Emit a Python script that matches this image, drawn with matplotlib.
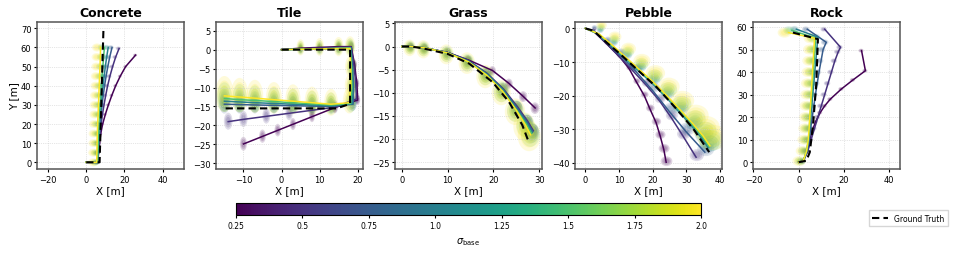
import matplotlib
matplotlib.use("Agg")
import matplotlib.pyplot as plt
import numpy as np
from matplotlib.patches import Ellipse
from matplotlib.lines import Line2D
from matplotlib.ticker import MultipleLocator

sigmas = [0.25, 0.5, 0.75, 1.0, 1.5, 2.0]
cbar_ticks = [0.25, 0.5, 0.75, 1.0, 1.25, 1.5, 1.75, 2.0]
titles = ["Concrete", "Tile", "Grass", "Pebble", "Rock"]

# ---- Concrete ----
concrete_gt_x = [0, 7, 9]
concrete_gt_y = [0, 0, 69]
concrete_est = {
    0.25: ([0, 6, 6.5, 7, 7.6, 8.6, 10, 11.6, 13.4, 15.4, 17.8, 20.6, 25.8],
           [0, 0, 5, 10, 15, 20, 25, 30, 35, 40, 45, 50, 56]),
    0.5: ([0, 6, 6.3, 6.7, 7.2, 7.8, 8.5, 9.3, 10.2, 11.2, 12.4, 13.8, 15.4, 17.2],
          [0, 0, 5, 10, 15, 20, 25, 30, 35, 40, 45, 50, 55, 59.5]),
    0.75: ([0, 6, 6.2, 6.5, 6.9, 7.3, 7.8, 8.3, 8.9, 9.6, 10.4, 11.3, 12.3, 13.5],
           [0, 0, 5, 10, 15, 20, 25, 30, 35, 40, 45, 50, 55, 60]),
    1.0: ([0, 6, 6.2, 6.4, 6.7, 7.0, 7.4, 7.8, 8.3, 8.8, 9.4, 10.0, 10.7, 11.5],
          [0, 0, 5, 10, 15, 20, 25, 30, 35, 40, 45, 50, 55, 60]),
    1.5: ([0, 6, 6.1, 6.3, 6.5, 6.7, 7.0, 7.3, 7.6, 7.9, 8.3, 8.7, 9.1, 9.5],
          [0, 0, 5, 10, 15, 20, 25, 30, 35, 40, 45, 50, 55, 60]),
    2.0: ([0, 5.5, 5.6, 5.7, 5.8, 6.0, 6.2, 6.4, 6.6, 6.8, 7.0, 7.2, 7.4, 7.5],
          [0, 0, 5, 10, 15, 20, 25, 30, 35, 40, 45, 50, 55, 60]),
}

# ---- Tile ----
tile_gt_x = [0, 18, 18, 14.5, -15]
tile_gt_y = [0, 0, -14.3, -15.5, -15.5]
tile_est = {
    0.25: ([0, 5, 10, 15, 18.3, 19.2, 19.8, 20, 14, 8, 3, -1, -5, -10],
           [0, 0.4, 0.6, 0.8, 0.8, -4, -9, -13.3, -15.3, -17.7, -19.7, -21.3, -22.9, -24.9]),
    0.5: ([0, 5, 10, 15, 18.3, 19, 19.5, 19.7, 14, 8, 2, -4, -10, -14],
          [0, 0.2, 0.4, 0.6, 0.7, -4, -9, -13, -15.2, -16, -16.8, -17.6, -18.4, -19]),
    0.75: ([0, 5, 10, 15, 18.2, 18.7, 18.9, 18.8, 13, 8, 3, -2, -7, -11, -15],
           [0, 0.1, 0.2, 0.4, 0.5, -5, -10, -14.4, -15, -14.9, -14.8, -14.7, -14.6, -14.5, -14.4]),
    1.0: ([0, 5, 10, 15, 18.2, 18.6, 18.8, 18.6, 13, 8, 3, -2, -7, -11, -15],
          [0, 0.1, 0.2, 0.4, 0.5, -5, -10, -14.3, -14.8, -14.6, -14.4, -14.2, -14, -13.8, -13.6]),
    1.5: ([0, 5, 10, 15, 18, 18.4, 18.5, 18.2, 13, 8, 3, -2, -7, -11, -15],
          [0, 0.1, 0.2, 0.3, 0.4, -5, -10, -14.2, -14.6, -14.3, -14, -13.7, -13.4, -13.2, -12.9]),
    2.0: ([0, 5, 10, 15, 18, 18.2, 18.2, 17.8, 13, 8, 3, -2, -7, -11, -15],
          [0, 0.1, 0.2, 0.3, 0.3, -5, -10, -14, -14.4, -14, -13.6, -13.2, -12.8, -12.5, -12.2]),
}

# ---- Grass ----
grass_gt_x = [0, 2, 4.6, 10, 14.7, 19.8, 23.4, 26.3, 27.6]
grass_gt_y = [0, 0, -0.4, -1.6, -3.7, -7.7, -12, -17, -20.4]
grass_est = {
    0.25: ([0, 2, 5, 10, 14.5, 19.8, 23.4, 26.5, 29.1],
           [0, 0, -0.3, -1.3, -2.9, -5.2, -8, -10.8, -13.3]),
    0.5: ([0, 2, 5, 10, 14.5, 18.6, 22.2, 25.3, 27.5, 28.7],
          [0, 0, -0.3, -1.3, -3.0, -5.8, -9.2, -13.1, -16.2, -18.2]),
    0.75: ([0, 2, 5, 10, 14.5, 18.6, 22.1, 25.2, 27.4, 28.6],
           [0, 0, -0.3, -1.3, -3.1, -5.9, -9.3, -13.3, -16.4, -18.4]),
    1.0: ([0, 2, 5, 10, 14.5, 18.5, 22.1, 25.1, 27.3, 28.5],
          [0, 0, -0.3, -1.4, -3.2, -6.0, -9.4, -13.5, -16.6, -18.6]),
    1.5: ([0, 2, 5, 10, 14.5, 18.5, 22, 25, 27.2, 28.3],
          [0, 0, -0.3, -1.4, -3.3, -6.1, -9.6, -13.7, -16.8, -18.8]),
    2.0: ([0, 2, 5, 10, 14.5, 18.5, 22, 25, 27, 28.1],
          [0, 0, -0.3, -1.4, -3.3, -6.2, -9.7, -13.8, -17, -19.1]),
}

# ---- Pebble ----
pebble_gt_x = [0, 2.4, 6.3, 10.3, 15.2, 21.2, 27.1, 32.1, 36.8]
pebble_gt_y = [0, -0.7, -4.2, -7.6, -12.1, -17.5, -24, -29.9, -36.8]
pebble_est = {
    0.25: ([0, 2.4, 6.3, 10.3, 13, 15.2, 17.5, 19.2, 21, 22.2, 23.3, 24],
           [0, -0.8, -4.6, -8.6, -12, -16, -20, -24, -28, -31.9, -36, -39.8]),
    0.5: ([0, 2.4, 6.3, 10, 14, 18, 22, 25.5, 29, 32.9],
          [0, -0.8, -4.5, -8.3, -12.5, -16.8, -21.5, -26.5, -32, -38.3]),
    0.75: ([0, 2.4, 6.3, 10.3, 15, 20, 25, 30, 35.5],
           [0, -0.7, -4.3, -8, -12.8, -18.5, -24.8, -30.8, -36.8]),
    1.0: ([0, 4, 8, 12, 16, 20, 24, 28, 32, 35, 36.5],
          [0, -1.8, -5.5, -9.2, -12.8, -16.5, -20.5, -25, -29.5, -33.2, -35.5]),
    1.5: ([0, 4, 8, 12, 16, 20, 24, 28, 32, 35, 36.8],
          [0, -1.7, -5.2, -8.9, -12.5, -16.1, -20.1, -24.4, -28.9, -32.5, -35.2]),
    2.0: ([0, 4, 8, 12, 16, 20, 24, 28, 32, 35, 37],
          [0, -1.6, -5, -8.6, -12.2, -15.8, -19.8, -24, -28.4, -32, -34.9]),
}

# ---- Rock ----
rock_gt_x = [0, 3.4, 4.9, 6.3, 7.8, 8.5, -4]
rock_gt_y = [0, 0.7, 4.4, 16, 35, 54.6, 57.9]
rock_est = {
    0.25: ([0, 2, 4, 5, 6, 7.5, 9.5, 11.5, 14, 18.9, 24, 29.5, 27.8],
           [0, 0.5, 5, 10, 14, 18, 22, 25, 28, 32.5, 36.5, 40.6, 49.5]),
    0.5: ([0, 2, 4, 5.5, 7, 8.5, 10, 11.5, 13, 14.5, 16, 17.5, 18.5, 11.5],
          [0, 0.5, 5, 10, 15, 20, 25, 30, 35, 40, 45, 49, 51, 59]),
    0.75: ([0, 2, 3.8, 4.7, 5.3, 6, 6.7, 7.4, 8.2, 9, 9.9, 10.8, 12.2, 3.8],
           [0, 0.5, 5, 10, 15, 20, 25, 30, 35, 40, 45, 50, 53.2, 59]),
    1.0: ([0, 2, 3.6, 4.4, 4.9, 5.3, 5.8, 6.2, 6.7, 7.1, 7.6, 8.0, 8.5, -1],
          [0, 0.5, 5, 10, 15, 20, 25, 30, 35, 40, 45, 50, 55.5, 59]),
    1.5: ([0, 2, 3.5, 4.3, 4.7, 5.0, 5.4, 5.8, 6.1, 6.5, 6.8, 7.2, 7.5, -3],
          [0, 0.5, 5, 10, 15, 20, 25, 30, 35, 40, 45, 50, 55, 58.5]),
    2.0: ([0, 2, 3.5, 4.2, 4.6, 4.9, 5.2, 5.5, 5.8, 6.1, 6.4, 6.7, 7, -4.5],
          [0, 0.5, 5, 10, 15, 20, 25, 30, 35, 40, 45, 50, 55, 57.5]),
}

panels = [
    (concrete_gt_x, concrete_gt_y, concrete_est),
    (tile_gt_x, tile_gt_y, tile_est),
    (grass_gt_x, grass_gt_y, grass_est),
    (pebble_gt_x, pebble_gt_y, pebble_est),
    (rock_gt_x, rock_gt_y, rock_est),
]

# axis limits / tick steps per panel
xlims = [(-25.7, 51.1), (-17.2, 21.4), (-1.5, 30.6), (-3.1, 40.6), (-20.2, 44.8)]
ylims = [(-3.5, 73.3), (-31.5, 7.3), (-26.5, 5.3), (-41.8, 1.9), (-3.0, 62.2)]
xsteps = [20, 10, 10, 10, 20]
ysteps = [10, 5, 5, 10, 10]
# uncertainty ellipse style: width, height, growth start, x shift, y shift
ell_style = [(5.5, 4.2, 1.0, -1.8, 0.0),
             (4.8, 9.5, 0.45, 0.0, 0.5),
             (5.0, 6.5, 0.55, -0.3, -0.3),
             (9.0, 7.5, 0.35, 0.8, 2.5),
             (6.0, 4.5, 1.0, -1.8, 0.0)]
lefts = [37, 216, 395, 575, 753]

cmap = plt.get_cmap("viridis")
norm = plt.Normalize(0.25, 2.0)

fig = plt.figure(figsize=(9.6, 2.55), dpi=100)

for k, (gx, gy, est) in enumerate(panels):
    ax = fig.add_axes([lefts[k] / 960, 85 / 255, 147 / 960, 147 / 255])
    ew, eh, g0, dx, dy = ell_style[k]
    for s in sigmas:
        xs, ys = est[s]
        c = cmap(norm(s))
        n = len(xs)
        scale = 0.3 + 0.7 * s / 2.0
        for i in range(1, n):
            g = g0 + (1 - g0) * (i - 1) / max(n - 2, 1)
            for layer in (1.0, 0.75, 0.5):
                ax.add_patch(Ellipse((xs[i] + dx * s / 2, ys[i] + dy * s / 2),
                                     ew * scale * g * layer, eh * scale * g * layer,
                                     facecolor=c, edgecolor="none", alpha=0.17, zorder=1))
    for s in sigmas:
        xs, ys = est[s]
        ax.plot(xs, ys, color=cmap(norm(s)), lw=1.1, zorder=2)
    ax.plot(gx, gy, color="black", ls=(0, (3.5, 2)), lw=1.5, zorder=3)

    ax.set_xlim(*xlims[k])
    ax.set_ylim(*ylims[k])
    ax.xaxis.set_major_locator(MultipleLocator(xsteps[k]))
    ax.yaxis.set_major_locator(MultipleLocator(ysteps[k]))
    ax.grid(True, ls=":", lw=0.5, color="#cccccc", zorder=0)
    ax.tick_params(labelsize=6, length=2, pad=2)
    for sp in ax.spines.values():
        sp.set_color("#555555")
        sp.set_linewidth(1.1)
    ax.set_title(titles[k], fontsize=9, fontweight="bold", pad=4)
    ax.set_xlabel("X [m]", fontsize=7.5, labelpad=1)
    if k == 0:
        ax.set_ylabel("Y [m]", fontsize=7.5, labelpad=1)

# colorbar
cax = fig.add_axes([236 / 960, 39 / 255, 465 / 960, 12 / 255])
sm = plt.cm.ScalarMappable(cmap=cmap, norm=norm)
cb = fig.colorbar(sm, cax=cax, orientation="horizontal", ticks=cbar_ticks)
cb.ax.set_xticklabels([str(t) for t in cbar_ticks])
cb.ax.tick_params(labelsize=5.5, length=2, pad=2)
cb.set_label(r"$\sigma_{\mathrm{base}}$", fontsize=7, labelpad=4)

# legend
handle = Line2D([], [], color="black", ls=(0, (3.5, 2)), lw=1.5)
fig.legend([handle], ["Ground Truth"], loc="center", bbox_to_anchor=(0.946, 0.141),
           fontsize=5.5, frameon=True, fancybox=False, handlelength=2.2,
           borderpad=0.4, edgecolor="#cccccc")

fig.savefig("out.png", dpi=100)
